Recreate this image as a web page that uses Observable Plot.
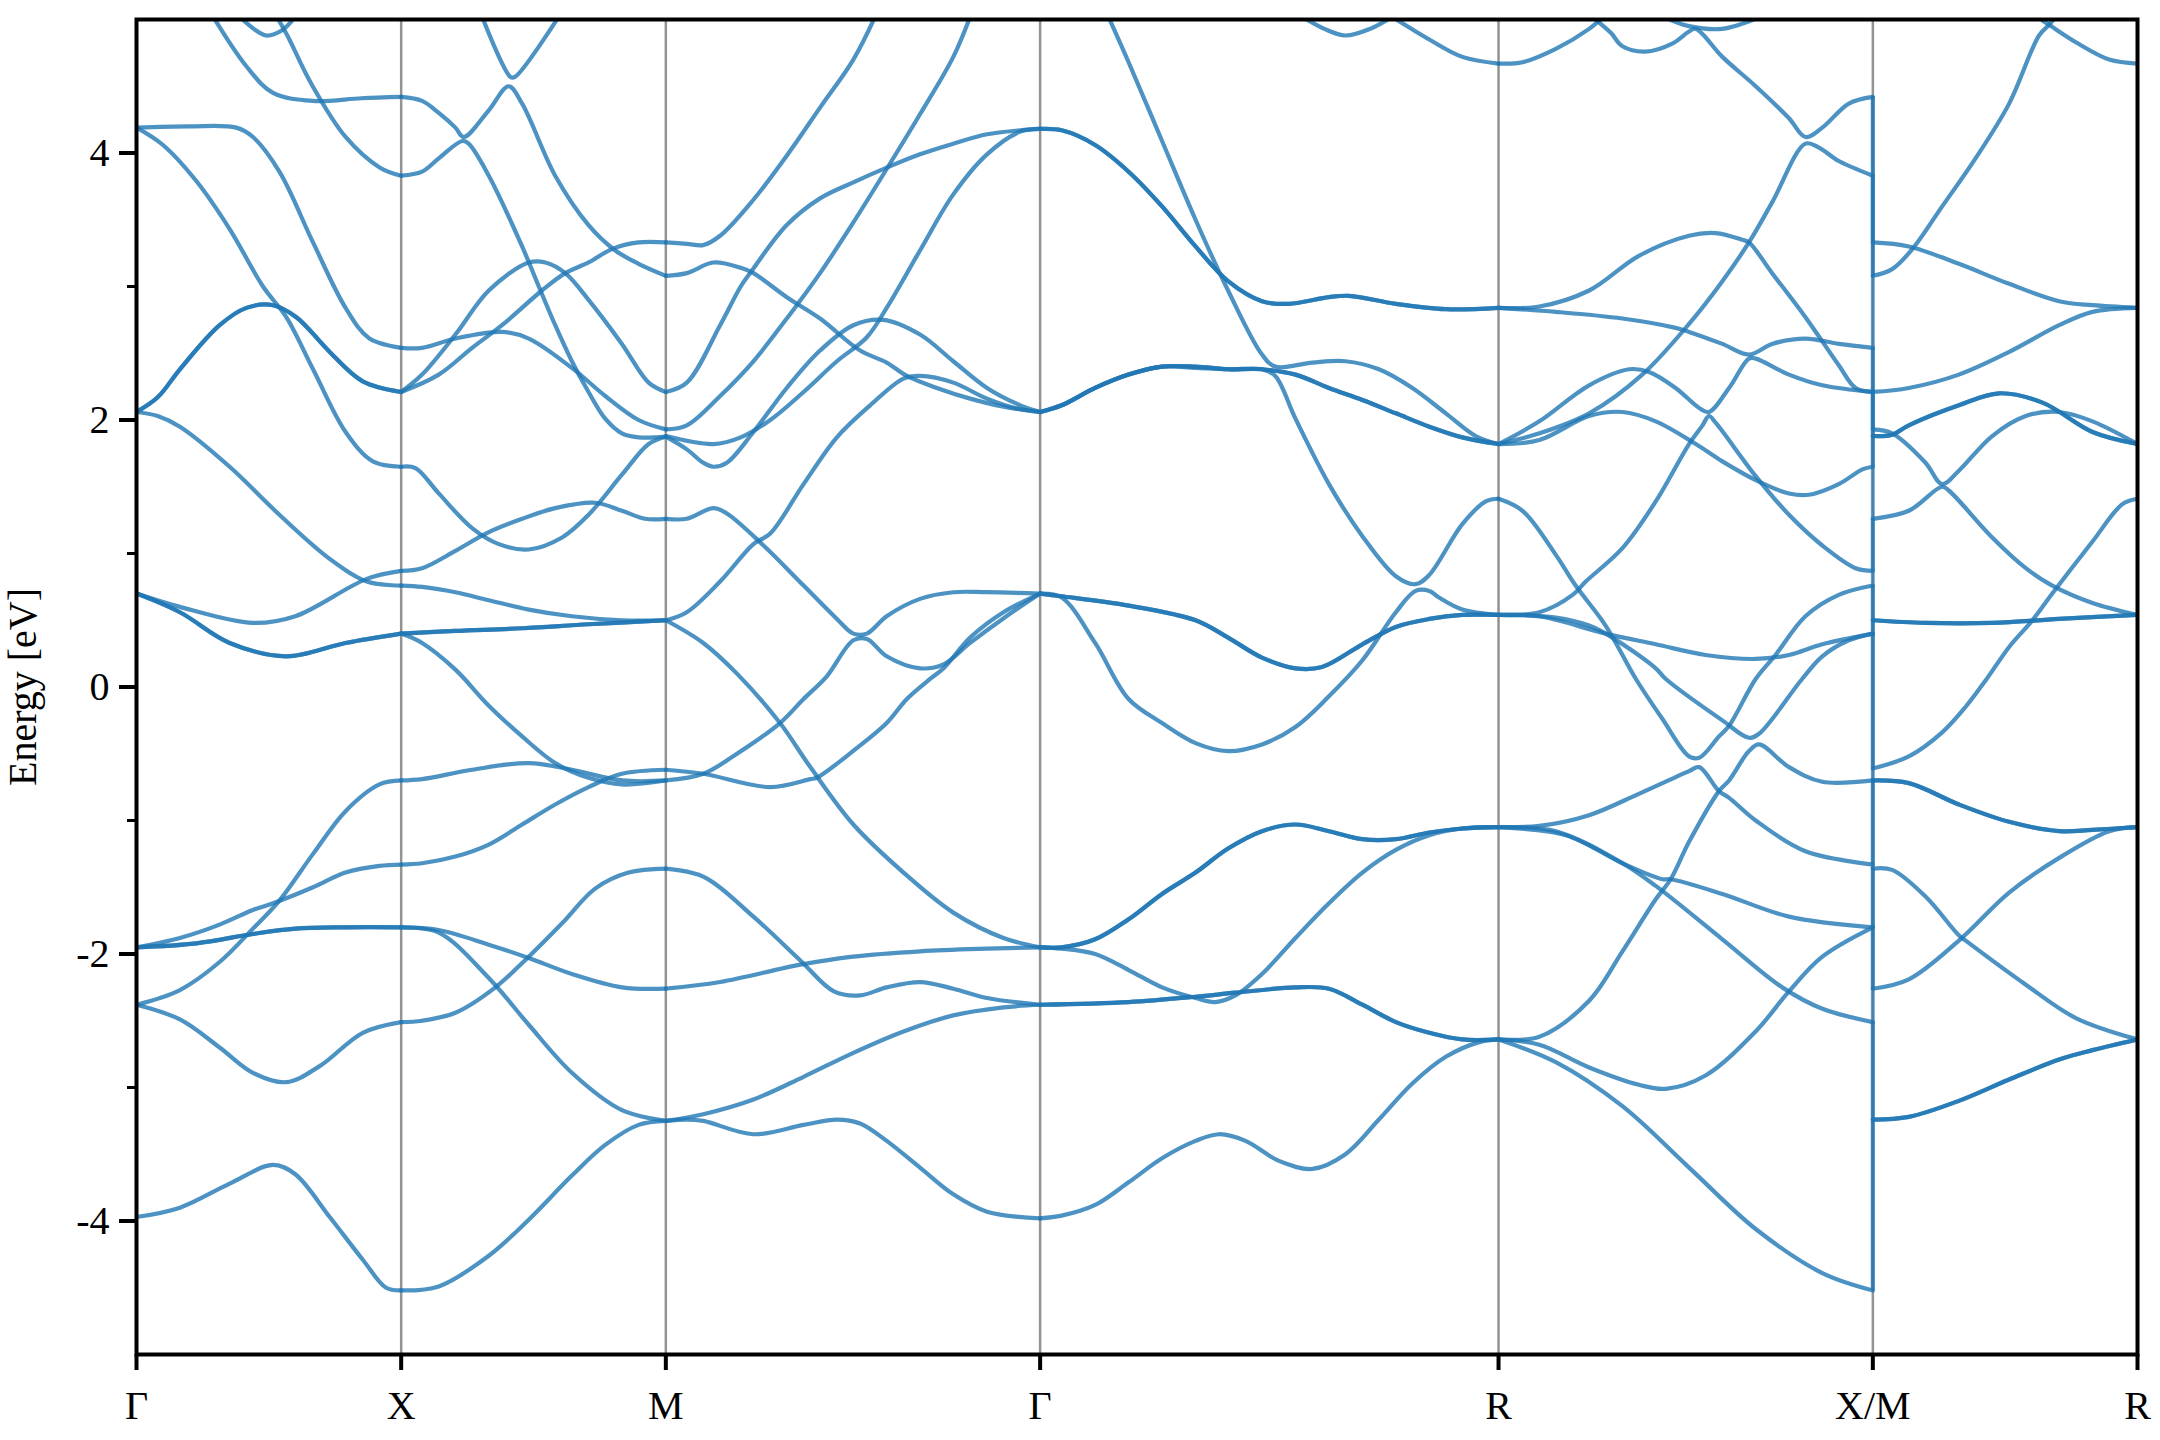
<!DOCTYPE html>
<html><head><meta charset="utf-8">
<script src="https://cdn.jsdelivr.net/npm/d3@7"></script>
<script src="https://cdn.jsdelivr.net/npm/@observablehq/plot@0.6"></script>
<style>body{margin:0;background:#fff}</style>
</head><body><div id="chart"></div>
<script>
// High-symmetry path (k-distance) and labels
const kPoints = [0, 0.5, 1.0, 1.7071, 2.5731, 3.2802, 3.7802];
const kLabels = ["Γ", "X", "M", "Γ", "R", "X/M", "R"];
const yTicks = [-4, -2, 0, 2, 4];
const yTickLabels = ["-4", "-2", "0", "2", "4"];
const yMinorTicks = [-3, -1, 1, 3];

// Bands per segment: [degeneracy, [[t along segment, energy eV], ...]]
const bandsGX = [
  [1, [[0,4.19],[0.2,4.2],[0.377,4.19],[0.44,4.12],[0.54,3.86],[0.667,3.33],[0.79,2.84],[0.88,2.61],[1,2.54]]],
  [1, [[0,4.19],[0.1,4.06],[0.226,3.79],[0.352,3.43],[0.478,3.0],[0.566,2.77],[0.667,2.38],[0.79,1.91],[0.893,1.69],[1,1.65]]],
  [2, [[0,2.06],[0.08,2.17],[0.164,2.38],[0.314,2.71],[0.415,2.84],[0.516,2.86],[0.604,2.77],[0.73,2.51],[0.855,2.29],[1,2.21]]],
  [1, [[0,2.06],[0.08,2.03],[0.164,1.95],[0.352,1.65],[0.54,1.29],[0.73,0.96],[0.87,0.79],[1,0.76]]],
  [1, [[0,0.70],[0.164,0.60],[0.44,0.48],[0.6,0.53],[0.87,0.81],[1,0.87]]],
  [2, [[0,0.70],[0.164,0.56],[0.352,0.33],[0.566,0.23],[0.79,0.33],[1,0.40]]],
  [1, [[0.29,5.02],[0.415,4.65],[0.516,4.45],[0.667,4.39],[0.85,4.41],[1,4.42]]],
  [1, [[0.39,5.02],[0.45,4.92],[0.49,4.88],[0.55,4.92],[0.6,5.02]]],
  [1, [[0.53,5.02],[0.57,4.88],[0.66,4.52],[0.79,4.12],[0.92,3.89],[1,3.83]]],
  [1, [[0,-2.38],[0.164,-2.27],[0.314,-2.06],[0.44,-1.81],[0.54,-1.60],[0.667,-1.25],[0.79,-0.93],[0.918,-0.73],[1,-0.70]]],
  [1, [[0,-1.95],[0.164,-1.88],[0.314,-1.78],[0.44,-1.67],[0.516,-1.62],[0.667,-1.50],[0.79,-1.39],[0.918,-1.34],[1,-1.33]]],
  [2, [[0,-1.95],[0.226,-1.92],[0.44,-1.85],[0.6,-1.81],[0.79,-1.80],[1,-1.80]]],
  [1, [[0,-2.38],[0.164,-2.49],[0.314,-2.70],[0.44,-2.89],[0.566,-2.96],[0.692,-2.84],[0.855,-2.59],[1,-2.51]]],
  [1, [[0,-3.97],[0.164,-3.90],[0.352,-3.72],[0.516,-3.58],[0.6,-3.65],[0.73,-3.97],[0.855,-4.29],[0.943,-4.50],[1,-4.52]]]
];

const bandsXM = [
  [1, [[0,4.42],[0.079,4.39],[0.142,4.30],[0.205,4.19],[0.236,4.12],[0.331,4.32],[0.406,4.50],[0.457,4.37],[0.582,3.83],[0.708,3.46],[0.809,3.27],[0.897,3.17],[1,3.08]]],
  [1, [[0,3.83],[0.079,3.86],[0.142,3.96],[0.231,4.09],[0.255,4.07],[0.331,3.83],[0.457,3.30],[0.52,3.0],[0.582,2.71],[0.645,2.44],[0.708,2.21],[0.771,2.01],[0.834,1.90],[0.897,1.87],[1,1.875]]],
  [1, [[0,2.21],[0.079,2.34],[0.205,2.64],[0.331,2.97],[0.482,3.18],[0.545,3.18],[0.62,3.10],[0.708,2.90],[0.834,2.57],[0.935,2.28],[1,2.21]]],
  [1, [[0,2.21],[0.142,2.34],[0.268,2.54],[0.381,2.71],[0.532,2.97],[0.62,3.10],[0.708,3.18],[0.796,3.28],[0.897,3.33],[1,3.33]]],
  [1, [[0,2.54],[0.079,2.54],[0.205,2.61],[0.381,2.66],[0.482,2.61],[0.645,2.39],[0.771,2.18],[0.897,2.0],[1,1.93]]],
  [1, [[0,1.65],[0.054,1.64],[0.142,1.45],[0.268,1.19],[0.369,1.07],[0.482,1.03],[0.608,1.12],[0.708,1.29],[0.834,1.59],[0.935,1.82],[1,1.875]]],
  [1, [[0,0.87],[0.079,0.89],[0.205,1.02],[0.331,1.16],[0.457,1.26],[0.582,1.34],[0.733,1.38],[0.834,1.32],[0.922,1.26],[1,1.26]]],
  [1, [[0,0.76],[0.079,0.75],[0.205,0.71],[0.331,0.65],[0.482,0.58],[0.645,0.53],[0.834,0.50],[1,0.50]]],
  [2, [[0,0.40],[0.205,0.42],[0.457,0.44],[0.708,0.47],[1,0.50]]],
  [1, [[0,0.40],[0.079,0.33],[0.205,0.13],[0.331,-0.14],[0.457,-0.37],[0.582,-0.57],[0.708,-0.68],[0.834,-0.73],[1,-0.70]]],
  [1, [[0,-0.70],[0.079,-0.69],[0.268,-0.62],[0.482,-0.57],[0.645,-0.62],[0.834,-0.70],[1,-0.70]]],
  [1, [[0,-1.33],[0.079,-1.32],[0.205,-1.27],[0.331,-1.18],[0.457,-1.03],[0.582,-0.88],[0.708,-0.75],[0.834,-0.65],[1,-0.62]]],
  [1, [[0,-1.80],[0.142,-1.82],[0.331,-1.93],[0.482,-2.03],[0.645,-2.15],[0.834,-2.25],[1,-2.26]]],
  [1, [[0,-1.80],[0.142,-1.84],[0.331,-2.18],[0.482,-2.53],[0.645,-2.89],[0.834,-3.17],[1,-3.25]]],
  [1, [[0,-2.51],[0.079,-2.50],[0.205,-2.44],[0.356,-2.25],[0.482,-2.02],[0.608,-1.77],[0.733,-1.51],[0.859,-1.39],[1,-1.36]]],
  [1, [[0,-4.52],[0.142,-4.49],[0.331,-4.26],[0.482,-3.99],[0.645,-3.66],[0.771,-3.43],[0.897,-3.28],[1,-3.25]]],
  [1, [[0.306,5.02],[0.413,4.57],[0.43,4.57],[0.595,5.02]]]
];

const bandsMG = [
  [1, [[0,3.33],[0.056,3.32],[0.1,3.31],[0.145,3.38],[0.234,3.65],[0.323,3.98],[0.412,4.34],[0.501,4.70],[0.559,5.02]]],
  [1, [[0,3.08],[0.056,3.10],[0.127,3.18],[0.2,3.14],[0.234,3.10],[0.323,2.92],[0.412,2.76],[0.519,2.52],[0.59,2.43],[0.644,2.33],[0.724,2.24],[0.813,2.16],[0.902,2.10],[1,2.06]]],
  [1, [[0,2.21],[0.056,2.28],[0.145,2.71],[0.2,3.0],[0.225,3.10],[0.323,3.46],[0.412,3.66],[0.501,3.78],[0.59,3.89],[0.679,3.99],[0.768,4.07],[0.858,4.14],[0.947,4.17],[1,4.18]]],
  [1, [[0,1.93],[0.056,1.96],[0.145,2.18],[0.234,2.44],[0.323,2.76],[0.35,2.86],[0.412,3.10],[0.501,3.48],[0.59,3.88],[0.679,4.29],[0.768,4.72],[0.813,5.02]]],
  [1, [[0,1.88],[0.127,1.82],[0.2,1.87],[0.279,2.0],[0.368,2.21],[0.457,2.44],[0.537,2.62],[0.59,2.84],[0.679,3.27],[0.768,3.69],[0.858,3.99],[0.947,4.16],[1,4.18]]],
  [1, [[0,1.875],[0.056,1.78],[0.1,1.68],[0.127,1.65],[0.163,1.68],[0.234,1.91],[0.323,2.24],[0.412,2.52],[0.501,2.71],[0.581,2.75],[0.679,2.64],[0.768,2.44],[0.858,2.24],[0.947,2.11],[1,2.06]]],
  [1, [[0,0.50],[0.056,0.56],[0.145,0.79],[0.234,1.07],[0.279,1.15],[0.368,1.52],[0.457,1.87],[0.546,2.11],[0.635,2.31],[0.679,2.33],[0.768,2.28],[0.858,2.16],[0.947,2.08],[1,2.06]]],
  [1, [[0,1.26],[0.056,1.26],[0.127,1.34],[0.163,1.30],[0.261,1.06],[0.368,0.76],[0.457,0.51],[0.501,0.40],[0.537,0.40],[0.59,0.53],[0.679,0.66],[0.768,0.71],[0.858,0.71],[1,0.70]]],
  [1, [[0,-0.70],[0.1,-0.65],[0.19,-0.50],[0.305,-0.27],[0.368,-0.09],[0.43,0.08],[0.501,0.35],[0.537,0.36],[0.59,0.23],[0.679,0.14],[0.742,0.17],[0.813,0.33],[0.91,0.53],[1,0.70]]],
  [1, [[0,-0.62],[0.1,-0.65],[0.279,-0.75],[0.386,-0.69],[0.403,-0.68],[0.5,-0.48],[0.59,-0.27],[0.644,-0.09],[0.706,0.06],[0.742,0.14],[0.813,0.37],[0.902,0.56],[1,0.70]]],
  [1, [[0,0.50],[0.1,0.33],[0.19,0.10],[0.305,-0.27],[0.386,-0.60],[0.501,-1.03],[0.635,-1.39],[0.768,-1.69],[0.902,-1.88],[1,-1.95]]],
  [1, [[0,-2.26],[0.145,-2.21],[0.36,-2.08],[0.5,-2.02],[0.679,-1.98],[0.858,-1.96],[1,-1.95]]],
  [1, [[0,-1.36],[0.1,-1.42],[0.234,-1.72],[0.36,-2.05],[0.449,-2.28],[0.519,-2.31],[0.59,-2.25],[0.679,-2.21],[0.768,-2.26],[0.858,-2.33],[1,-2.38]]],
  [1, [[0,-3.25],[0.056,-3.24],[0.1,-3.25],[0.234,-3.35],[0.368,-3.28],[0.457,-3.24],[0.519,-3.27],[0.59,-3.40],[0.679,-3.60],[0.768,-3.80],[0.858,-3.93],[1,-3.98]]],
  [1, [[0,-3.25],[0.1,-3.20],[0.234,-3.09],[0.368,-2.92],[0.501,-2.74],[0.635,-2.58],[0.768,-2.46],[0.902,-2.40],[1,-2.38]]]
];

const bandsGR = [
  [2, [[0,4.18],[0.047,4.17],[0.12,4.06],[0.193,3.86],[0.266,3.60],[0.339,3.30],[0.41,3.04],[0.484,2.89],[0.543,2.87],[0.63,2.92],[0.674,2.93],[0.776,2.87],[0.885,2.83],[1,2.84]]],
  [1, [[0.149,5.02],[0.193,4.68],[0.266,4.09],[0.339,3.50],[0.41,2.97],[0.484,2.49],[0.513,2.40],[0.594,2.43],[0.666,2.44],[0.739,2.38],[0.812,2.24],[0.885,2.05],[0.95,1.88],[1,1.82]]],
  [1, [[0,2.06],[0.047,2.11],[0.12,2.24],[0.193,2.34],[0.266,2.40],[0.339,2.39],[0.41,2.38],[0.484,2.38],[0.513,2.33],[0.557,2.01],[0.63,1.52],[0.703,1.13],[0.776,0.83],[0.819,0.77],[0.849,0.84],[0.921,1.22],[0.972,1.39],[1,1.41]]],
  [2, [[0,2.06],[0.047,2.11],[0.12,2.24],[0.193,2.34],[0.266,2.40],[0.339,2.40],[0.41,2.38],[0.484,2.38],[0.557,2.34],[0.63,2.24],[0.703,2.15],[0.776,2.05],[0.849,1.95],[0.921,1.87],[1,1.82]]],
  [2, [[0,0.70],[0.047,0.68],[0.193,0.61],[0.339,0.50],[0.41,0.37],[0.484,0.22],[0.557,0.14],[0.615,0.15],[0.703,0.32],[0.776,0.45],[0.849,0.51],[0.921,0.54],[1,0.54]]],
  [1, [[0,0.70],[0.047,0.67],[0.12,0.33],[0.193,-0.09],[0.266,-0.27],[0.339,-0.42],[0.41,-0.48],[0.484,-0.43],[0.557,-0.30],[0.63,-0.07],[0.703,0.20],[0.776,0.56],[0.819,0.72],[0.849,0.72],[0.87,0.67],[0.921,0.58],[1,0.54]]],
  [2, [[0,-1.95],[0.047,-1.95],[0.12,-1.89],[0.193,-1.74],[0.266,-1.55],[0.339,-1.39],[0.41,-1.21],[0.484,-1.08],[0.557,-1.03],[0.63,-1.08],[0.703,-1.14],[0.776,-1.14],[0.849,-1.09],[0.921,-1.06],[1,-1.05]]],
  [1, [[0,-1.95],[0.047,-1.96],[0.12,-2.00],[0.193,-2.12],[0.266,-2.25],[0.339,-2.33],[0.382,-2.36],[0.426,-2.31],[0.484,-2.15],[0.557,-1.88],[0.63,-1.62],[0.703,-1.39],[0.776,-1.22],[0.849,-1.11],[0.921,-1.06],[1,-1.05]]],
  [2, [[0,-2.38],[0.193,-2.36],[0.339,-2.32],[0.426,-2.29],[0.557,-2.25],[0.63,-2.26],[0.703,-2.38],[0.776,-2.51],[0.849,-2.59],[0.921,-2.64],[1,-2.64]]],
  [1, [[0,-3.98],[0.047,-3.96],[0.12,-3.88],[0.193,-3.71],[0.266,-3.53],[0.339,-3.40],[0.39,-3.35],[0.448,-3.40],[0.521,-3.55],[0.594,-3.61],[0.666,-3.50],[0.739,-3.24],[0.812,-2.97],[0.885,-2.77],[0.958,-2.66],[1,-2.64]]],
  [1, [[0.572,5.02],[0.62,4.93],[0.666,4.88],[0.72,4.93],[0.768,5.02]]],
  [1, [[0.768,5.02],[0.849,4.85],[0.921,4.72],[1,4.67]]]
];

const bandsRX = [
  [1, [[0,4.67],[0.064,4.68],[0.153,4.78],[0.242,4.93],[0.28,5.02]]],
  [1, [[0.25,5.02],[0.3,4.90],[0.331,4.80],[0.393,4.76],[0.464,4.82],[0.509,4.91],[0.527,4.93],[0.598,4.72],[0.687,4.50],[0.776,4.26],[0.82,4.12],[0.865,4.19],[0.936,4.37],[1,4.42]]],
  [1, [[0.44,5.02],[0.509,4.95],[0.598,4.93],[0.70,5.02]]],
  [1, [[0,2.84],[0.109,2.85],[0.242,2.97],[0.375,3.23],[0.509,3.38],[0.58,3.40],[0.651,3.35],[0.669,3.33],[0.731,3.10],[0.82,2.77],[0.909,2.41],[0.954,2.24],[1,2.21]]],
  [1, [[0,2.84],[0.153,2.81],[0.331,2.76],[0.473,2.69],[0.509,2.66],[0.598,2.57],[0.669,2.49],[0.731,2.57],[0.82,2.61],[0.909,2.57],[1,2.54]]],
  [1, [[0,1.82],[0.109,1.90],[0.242,2.05],[0.384,2.34],[0.509,2.72],[0.598,3.04],[0.669,3.33],[0.731,3.63],[0.82,4.07],[0.856,4.04],[0.909,3.94],[1,3.83]]],
  [1, [[0,1.82],[0.109,1.99],[0.242,2.26],[0.349,2.38],[0.402,2.36],[0.473,2.24],[0.536,2.09],[0.562,2.06],[0.616,2.24],[0.669,2.46],[0.687,2.46],[0.776,2.34],[0.865,2.26],[1,2.21]]],
  [1, [[0,1.82],[0.109,1.85],[0.242,2.03],[0.331,2.06],[0.42,1.99],[0.527,1.82],[0.598,1.69],[0.687,1.55],[0.776,1.45],[0.829,1.44],[0.909,1.52],[0.972,1.63],[1,1.65]]],
  [1, [[0,0.54],[0.109,0.56],[0.198,0.69],[0.233,0.79],[0.331,1.04],[0.42,1.39],[0.509,1.82],[0.545,1.96],[0.562,2.03],[0.58,1.98],[0.687,1.58],[0.776,1.29],[0.865,1.06],[0.954,0.89],[1,0.87]]],
  [1, [[0,1.41],[0.064,1.32],[0.153,0.99],[0.206,0.76],[0.286,0.46],[0.367,0.06],[0.438,-0.24],[0.509,-0.52],[0.536,-0.53],[0.589,-0.37],[0.616,-0.29],[0.687,0.06],[0.74,0.24],[0.82,0.53],[0.909,0.69],[1,0.76]]],
  [1, [[0,0.54],[0.153,0.52],[0.242,0.46],[0.304,0.37],[0.42,0.14],[0.447,0.06],[0.598,-0.25],[0.669,-0.38],[0.696,-0.35],[0.811,0.06],[0.865,0.23],[0.936,0.35],[1,0.40]]],
  [1, [[0,0.54],[0.109,0.53],[0.286,0.40],[0.42,0.32],[0.553,0.24],[0.687,0.21],[0.776,0.24],[0.865,0.32],[1,0.40]]],
  [1, [[0,-1.05],[0.18,-1.11],[0.331,-1.32],[0.438,-1.44],[0.46,-1.44],[0.598,-1.55],[0.776,-1.72],[1,-1.80]]],
  [1, [[0,-2.64],[0.109,-2.62],[0.242,-2.35],[0.331,-1.98],[0.42,-1.59],[0.46,-1.44],[0.509,-1.16],[0.589,-0.78],[0.616,-0.70],[0.669,-0.48],[0.696,-0.43],[0.776,-0.60],[0.865,-0.71],[1,-0.70]]],
  [1, [[0,-1.05],[0.109,-1.04],[0.242,-0.96],[0.375,-0.80],[0.509,-0.63],[0.536,-0.60],[0.589,-0.78],[0.616,-0.83],[0.687,-1.0],[0.82,-1.23],[1,-1.33]]],
  [1, [[0,-1.05],[0.153,-1.08],[0.331,-1.32],[0.42,-1.49],[0.598,-1.89],[0.758,-2.25],[0.865,-2.41],[1,-2.51]]],
  [1, [[0,-2.64],[0.109,-2.68],[0.242,-2.85],[0.375,-2.98],[0.447,-3.01],[0.553,-2.91],[0.687,-2.58],[0.776,-2.28],[0.865,-2.02],[1,-1.80]]],
  [1, [[0,-2.64],[0.153,-2.81],[0.331,-3.14],[0.509,-3.60],[0.687,-4.06],[0.865,-4.39],[1,-4.52]]]
];

const bandsMR = [
  [1, [[0,3.08],[0.073,3.13],[0.149,3.28],[0.262,3.60],[0.388,3.96],[0.515,4.37],[0.628,4.88],[0.666,4.96],[0.69,5.02]]],
  [1, [[0.62,5.02],[0.666,4.96],[0.767,4.83],[0.893,4.70],[1,4.67]]],
  [1, [[0,3.33],[0.136,3.30],[0.325,3.17],[0.515,3.02],[0.704,2.89],[0.83,2.86],[1,2.84]]],
  [1, [[0,2.21],[0.136,2.24],[0.325,2.34],[0.515,2.51],[0.704,2.71],[0.83,2.81],[1,2.84]]],
  [2, [[0,1.88],[0.073,1.89],[0.136,1.96],[0.325,2.11],[0.477,2.20],[0.641,2.13],[0.83,1.91],[1,1.82]]],
  [1, [[0,1.93],[0.073,1.90],[0.199,1.68],[0.262,1.52],[0.325,1.62],[0.451,1.88],[0.578,2.03],[0.704,2.06],[0.83,1.99],[1,1.82]]],
  [1, [[0,1.26],[0.136,1.32],[0.262,1.50],[0.288,1.47],[0.451,1.12],[0.578,0.89],[0.678,0.76],[0.83,0.63],[1,0.54]]],
  [2, [[0,0.50],[0.199,0.48],[0.451,0.48],[0.704,0.51],[1,0.54]]],
  [1, [[0,-0.61],[0.136,-0.52],[0.262,-0.34],[0.35,-0.15],[0.43,0.06],[0.515,0.30],[0.603,0.50],[0.678,0.70],[0.83,1.09],[0.943,1.37],[1,1.41]]],
  [2, [[0,-0.70],[0.136,-0.72],[0.325,-0.88],[0.515,-1.01],[0.704,-1.08],[0.83,-1.07],[1,-1.05]]],
  [1, [[0,-1.36],[0.073,-1.37],[0.199,-1.57],[0.325,-1.86],[0.351,-1.90],[0.578,-2.23],[0.767,-2.48],[1,-2.64]]],
  [1, [[0,-2.26],[0.136,-2.19],[0.325,-1.90],[0.515,-1.54],[0.704,-1.28],[0.893,-1.08],[1,-1.05]]],
  [2, [[0,-3.24],[0.136,-3.22],[0.325,-3.10],[0.515,-2.94],[0.704,-2.79],[0.83,-2.72],[1,-2.64]]]
];

const segments = [bandsGX, bandsXM, bandsMG, bandsGR, bandsRX, bandsMR];
const rows = [];
segments.forEach((seg, i) => {
  const k0 = kPoints[i], k1 = kPoints[i + 1];
  seg.forEach(([n, pts], j) => {
    for (let c = 0; c < n; c++) {
      for (const [t, e] of pts) rows.push({k: k0 + t * (k1 - k0), e, id: `${i}-${j}-${c}`});
    }
  });
});

// Discontinuity X|M: band ends at X joined to band starts at M (by energy order)
const xEnds = bandsRX.flatMap(([n, p]) => p[p.length - 1][0] === 1 ? Array(n).fill(p[p.length - 1][1]) : []).sort((a, b) => a - b);
const mStarts = bandsMR.flatMap(([n, p]) => p[0][0] === 0 ? Array(n).fill(p[0][1]) : []).sort((a, b) => a - b);
const jumps = xEnds.slice(0, Math.min(xEnds.length, mStarts.length)).map((v, i) => ({k: kPoints[5], y1: v, y2: mStarts[i]}));
jumps.push({k: kPoints[5], y1: d3.min([...xEnds, ...mStarts]), y2: d3.max([...xEnds, ...mStarts])});

const font = "'Liberation Serif', 'Times New Roman', serif";
const fs = 40;
const chart = Plot.plot({
  width: 2160,
  height: 1440,
  marginLeft: 136,
  marginRight: 23,
  marginTop: 19,
  marginBottom: 86,
  x: {domain: [kPoints[0], kPoints[kPoints.length - 1]]},
  y: {domain: [-5, 5]},
  style: {fontFamily: font, fontSize: fs + "px", background: "white", color: "black", overflow: "visible"},
  marks: [
    Plot.ruleX(kPoints.slice(1, -1), {stroke: "#808080", strokeWidth: 2.5, strokeOpacity: 0.85}),
    Plot.line(rows, {x: "k", y: "e", z: "id", stroke: "#1f77b4", strokeOpacity: 0.8, strokeWidth: 4.2, curve: "catmull-rom", clip: true}),
    Plot.ruleX(jumps, {x: "k", y1: "y1", y2: "y2", stroke: "#1f77b4", strokeOpacity: 0.6, strokeWidth: 4}),
    Plot.frame({stroke: "black", strokeWidth: 4}),
    Plot.axisY({ticks: yTicks, tickSize: 17, tickPadding: 10, strokeWidth: 4, tickFormat: d => yTickLabels[yTicks.indexOf(d)], label: null, fontSize: fs, fontFamily: font}),
    Plot.axisY({ticks: yMinorTicks, tickSize: 9, strokeWidth: 3, tickFormat: () => "", label: null}),
    Plot.axisX({ticks: kPoints, tickSize: 16, tickPadding: 20, strokeWidth: 4, tickFormat: d => kLabels[kPoints.indexOf(d)], label: null, fontSize: fs, fontFamily: font}),
    Plot.text(["Energy [eV]"], {frameAnchor: "left", textAnchor: "middle", lineAnchor: "middle", rotate: -90, dx: -113, fontSize: fs, fontFamily: font, fill: "black"})
  ]
});
document.getElementById("chart").appendChild(chart);
</script></body></html>
